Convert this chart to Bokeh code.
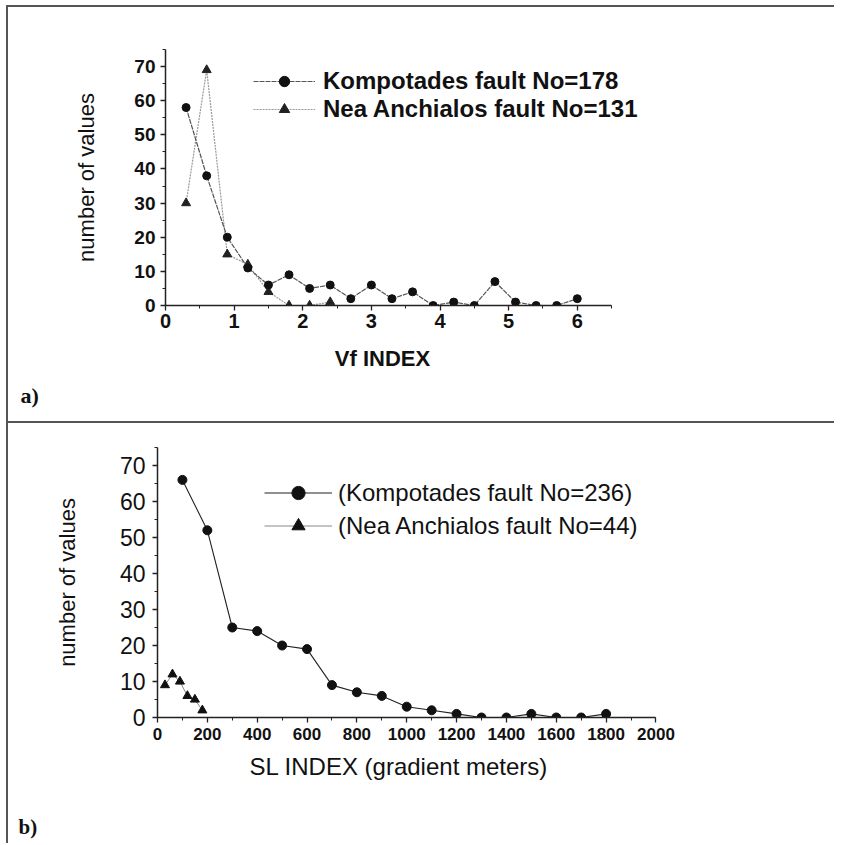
from bokeh.plotting import figure
from bokeh.layouts import column
from bokeh.models import SingleIntervalTicker, Legend, LegendItem, Label, Range1d
from bokeh.embed import file_html
from bokeh.resources import INLINE

# ---- data (a) Vf index ----
vf_x = [0.3, 0.6, 0.9, 1.2, 1.5, 1.8, 2.1, 2.4, 2.7, 3.0,
        3.3, 3.6, 3.9, 4.2, 4.5, 4.8, 5.1, 5.4, 5.7, 6.0]
komp_vf = [58, 38, 20, 11, 6, 9, 5, 6, 2, 6, 2, 4, 0, 1, 0, 7, 1, 0, 0, 2]
nea_vf_x = [0.3, 0.6, 0.9, 1.2, 1.5, 1.8, 2.1, 2.4]
nea_vf = [30, 69, 15, 12, 4, 0, 0, 1]

# ---- data (b) SL index ----
sl_x = [100, 200, 300, 400, 500, 600, 700, 800, 900, 1000,
        1100, 1200, 1300, 1400, 1500, 1600, 1700, 1800]
komp_sl = [66, 52, 25, 24, 20, 19, 9, 7, 6, 3, 2, 1, 0, 0, 1, 0, 0, 1]
nea_sl_x = [30, 60, 90, 120, 150, 180]
nea_sl = [9, 12, 10, 6, 5, 2]

labels_a = ["Kompotades fault No=178", "Nea Anchialos fault No=131"]
labels_b = ["(Kompotades fault No=236)", "(Nea Anchialos fault No=44)"]
xtitle_a = "Vf  INDEX"
xtitle_b = "SL  INDEX  (gradient meters)"
ytitle = "number of values"

FONT = "Liberation Sans"
SERIF = "Liberation Serif"
W = 828
BORDER = "2px solid #555"


def style_axes(p, xlab_size, ylab_size, xlab_style, ylab_style):
    p.xgrid.visible = False
    p.ygrid.visible = False
    p.outline_line_color = None
    for ax in (p.xaxis[0], p.yaxis[0]):
        ax.axis_line_width = 1.5
        ax.axis_line_color = "#222"
        ax.major_tick_line_color = "#222"
        ax.minor_tick_line_color = "#222"
        ax.major_tick_line_width = 1.3
        ax.minor_tick_line_width = 1.0
        ax.major_tick_in = 0
        ax.major_tick_out = 5
        ax.minor_tick_in = 0
        ax.minor_tick_out = 3
        ax.major_label_text_font = FONT
        ax.major_label_text_color = "#111"
        ax.axis_label_text_font = FONT
        ax.axis_label_text_color = "#111"
    p.xaxis[0].major_label_text_font_size = xlab_size
    p.xaxis[0].major_label_text_font_style = xlab_style
    p.yaxis[0].major_label_text_font_size = ylab_size
    p.yaxis[0].major_label_text_font_style = ylab_style


def strip(height, styles):
    s = figure(width=W, height=height, output_backend="svg", toolbar_location=None,
               x_range=Range1d(0, 1), y_range=Range1d(0, 1),
               x_axis_type=None, y_axis_type=None, min_border=0,
               margin=(0, 0, 0, 6), styles=styles)
    s.frame_align = False
    s.outline_line_color = None
    s.xgrid.visible = False
    s.ygrid.visible = False
    return s


# ================= panel a =================
# x range reaches past the drawn axis (bounds) so that the legend is not clipped
p1 = figure(width=W, height=337, output_backend="svg", toolbar_location=None,
            x_range=Range1d(0, 9.5), y_range=Range1d(0, 75),
            min_border_left=157, min_border_right=19,
            min_border_top=42, min_border_bottom=39,
            margin=(5, 0, 0, 6),
            styles={"border-top": BORDER, "border-left": BORDER})
p1.frame_align = False
style_axes(p1, "20px", "19px", "bold", "bold")
p1.xaxis[0].bounds = (0, 6.5)
p1.xaxis[0].ticker = SingleIntervalTicker(interval=1, num_minor_ticks=2)
p1.yaxis[0].ticker = SingleIntervalTicker(interval=10, num_minor_ticks=2)
p1.xaxis[0].major_label_standoff = 3
p1.yaxis[0].axis_label = ytitle
p1.yaxis[0].axis_label_text_font_size = "22px"
p1.yaxis[0].axis_label_text_font_style = "normal"
p1.yaxis[0].major_label_standoff = 5
p1.yaxis[0].axis_label_standoff = 32

a_nl = p1.line(nea_vf_x, nea_vf, line_color="#999999", line_width=1.2, line_dash="2 1")
a_nm = p1.scatter(nea_vf_x, nea_vf, marker="triangle", size=9,
                  fill_color="#222", line_color="#222")
a_kl = p1.line(vf_x, komp_vf, line_color="#555555", line_width=1.2, line_dash="5 1")
a_km = p1.scatter(vf_x, komp_vf, marker="circle", size=8,
                  fill_color="#111", line_color="#111")

leg1 = Legend(items=[LegendItem(label=labels_a[0], renderers=[a_kl, a_km]),
                     LegendItem(label=labels_a[1], renderers=[a_nl, a_nm])],
              location=(88, 182), orientation="vertical",
              glyph_width=62, glyph_height=26, label_height=26,
              label_standoff=8, padding=0, margin=0, spacing=0,
              border_line_color=None, background_fill_alpha=0,
              label_text_font=FONT, label_text_font_style="bold",
              label_text_font_size="24px", label_text_color="#111")
p1.add_layout(leg1)

sa = strip(81, {"border-left": BORDER, "border-bottom": BORDER})
sa.add_layout(Label(x=377, y=65, x_units="screen", y_units="screen", text=xtitle_a,
                    text_font=FONT, text_font_style="bold", text_font_size="22px",
                    text_align="center", text_baseline="middle", text_color="#111"))
sa.add_layout(Label(x=12, y=28, x_units="screen", y_units="screen", text="a)",
                    text_font=SERIF, text_font_style="bold", text_font_size="22px",
                    text_align="left", text_baseline="middle", text_color="#111"))

# ================= panel b =================
p2 = figure(width=W, height=330, output_backend="svg", toolbar_location=None,
            x_range=Range1d(0, 2600), y_range=Range1d(0, 75),
            min_border_left=149, min_border_right=31,
            min_border_top=24, min_border_bottom=36,
            margin=(0, 0, 0, 6),
            styles={"border-left": BORDER})
p2.frame_align = False
style_axes(p2, "17px", "23px", "bold", "normal")
p2.xaxis[0].bounds = (0, 2000)
p2.xaxis[0].ticker = SingleIntervalTicker(interval=200, num_minor_ticks=2)
p2.yaxis[0].ticker = SingleIntervalTicker(interval=10, num_minor_ticks=2)
p2.xaxis[0].major_label_standoff = 5
p2.yaxis[0].axis_label = ytitle
p2.yaxis[0].axis_label_text_font_size = "22px"
p2.yaxis[0].axis_label_text_font_style = "normal"
p2.yaxis[0].major_label_standoff = 7
p2.yaxis[0].axis_label_standoff = 37

b_nl = p2.line(nea_sl_x, nea_sl, line_color="#888888", line_width=1.0)
b_nm = p2.scatter(nea_sl_x, nea_sl, marker="triangle", size=9,
                  fill_color="#111", line_color="#111")
b_kl = p2.line(sl_x, komp_sl, line_color="#222222", line_width=1.1)
b_km = p2.scatter(sl_x, komp_sl, marker="circle", size=9,
                  fill_color="#111", line_color="#111")

leg2 = Legend(items=[LegendItem(label=labels_b[0], renderers=[b_kl, b_km]),
                     LegendItem(label=labels_b[1], renderers=[b_nl, b_nm])],
              location=(107, 175), orientation="vertical",
              glyph_width=68, glyph_height=33, label_height=33,
              label_standoff=6, padding=0, margin=0, spacing=0,
              border_line_color=None, background_fill_alpha=0,
              label_text_font=FONT, label_text_font_style="normal",
              label_text_font_size="24px", label_text_color="#111")
p2.add_layout(leg2)

sb = strip(90, {"border-left": BORDER})
sb.add_layout(Label(x=397, y=77, x_units="screen", y_units="screen", text=xtitle_b,
                    text_font=FONT, text_font_style="normal", text_font_size="24px",
                    text_align="center", text_baseline="middle", text_color="#111"))
sb.add_layout(Label(x=10, y=17, x_units="screen", y_units="screen", text="b)",
                    text_font=SERIF, text_font_style="bold", text_font_size="21px",
                    text_align="left", text_baseline="middle", text_color="#111"))

layout = column(p1, sa, p2, sb, spacing=0)
open("out.html", "w").write(file_html(layout, INLINE))
